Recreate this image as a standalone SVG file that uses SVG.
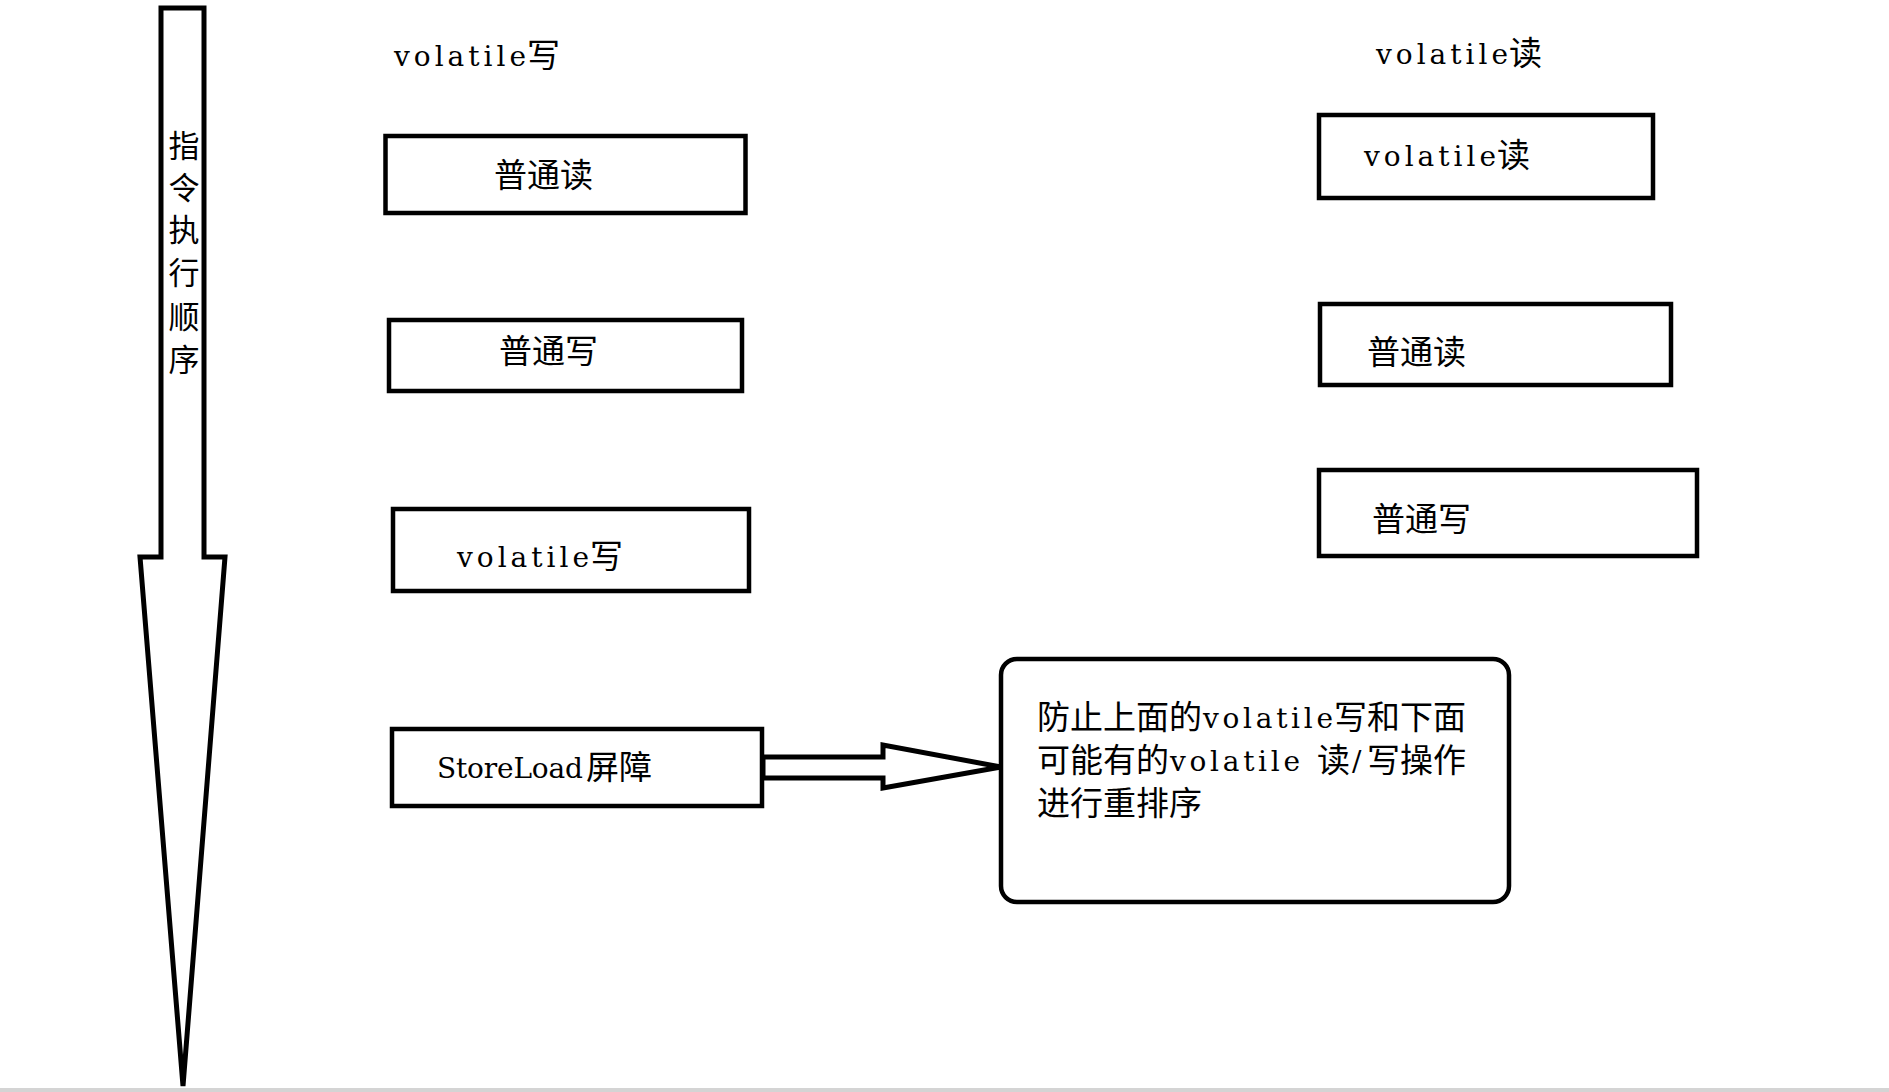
<svg xmlns="http://www.w3.org/2000/svg" width="1889" height="1092" viewBox="0 0 1889 1092">
<style>
  .box { fill: #ffffff; stroke: #000000; stroke-width: 4.5; }
  .l { font-family: "DejaVu Serif", "Liberation Serif", serif; font-size: 28px; fill: #000000; }
  .c { font-family: "Noto Sans CJK SC", sans-serif; font-size: 33px; fill: #000000; }
  .v { font-family: "Noto Sans CJK SC", sans-serif; font-size: 31px; fill: #000000; text-anchor: middle; }
  .shape { fill: #ffffff; stroke: #000000; stroke-width: 5; stroke-linejoin: miter; stroke-miterlimit: 4; }
</style>
<rect x="0" y="0" width="1889" height="1092" fill="#ffffff"/>
<rect x="0" y="1088" width="1889" height="4" fill="#d4d4d4"/>

<g id="order-arrow">
  <polygon class="shape" points="161,8 204,8 204,557 225,557 183,1086 140,557 161,557"/>
  <text class="v" x="184" y="157">指</text>
  <text class="v" x="184" y="199">令</text>
  <text class="v" x="184" y="241">执</text>
  <text class="v" x="184" y="284">行</text>
  <text class="v" x="184" y="328">顺</text>
  <text class="v" x="184" y="371">序</text>
</g>

<g id="title-write">
  <text class="l" x="394" y="66" textLength="132" lengthAdjust="spacing">volatile</text>
  <text class="c" x="527" y="67">写</text>
</g>
<g id="title-read">
  <text class="l" x="1376" y="64" textLength="132" lengthAdjust="spacing">volatile</text>
  <text class="c" x="1509" y="65">读</text>
</g>

<g id="w-normal-read">
  <rect class="box" x="385.5" y="136" width="360" height="77"/>
  <text class="c" x="494" y="187">普通读</text>
</g>
<g id="w-normal-write">
  <rect class="box" x="389" y="320" width="353" height="71"/>
  <text class="c" x="499" y="363">普通写</text>
</g>
<g id="w-volatile-write">
  <rect class="box" x="393" y="509" width="356" height="82"/>
  <text class="l" x="457" y="567" textLength="132" lengthAdjust="spacing">volatile</text>
  <text class="c" x="590" y="568">写</text>
</g>
<g id="w-storeload">
  <rect class="box" x="392" y="729" width="370" height="77"/>
  <text class="l" x="437" y="778" textLength="146" lengthAdjust="spacing">StoreLoad</text>
  <text class="c" x="586" y="779">屏障</text>
</g>

<g id="r-volatile-read">
  <rect class="box" x="1319" y="115" width="334" height="83"/>
  <text class="l" x="1364" y="166" textLength="132" lengthAdjust="spacing">volatile</text>
  <text class="c" x="1497" y="167">读</text>
</g>
<g id="r-normal-read">
  <rect class="box" x="1320" y="304" width="351" height="81"/>
  <text class="c" x="1367" y="364">普通读</text>
</g>
<g id="r-normal-write">
  <rect class="box" x="1319" y="470" width="378" height="86"/>
  <text class="c" x="1372" y="531">普通写</text>
</g>

<g id="note">
  <rect class="box" x="1001" y="659" width="508" height="243" rx="16" ry="16"/>
  <text class="c" x="1037" y="729">防止上面的</text>
  <text class="l" x="1203" y="728" textLength="130" lengthAdjust="spacing">volatile</text>
  <text class="c" x="1334" y="729">写和下面</text>
  <text class="c" x="1037" y="772">可能有的</text>
  <text class="l" x="1170" y="771" textLength="130" lengthAdjust="spacing">volatile</text>
  <text class="c" x="1317" y="772">读</text>
  <text class="l" x="1352" y="771">/</text>
  <text class="c" x="1367" y="772">写操作</text>
  <text class="c" x="1037" y="815">进行重排序</text>
</g>

<g id="connectors">
  <polygon class="shape" points="763,757 883,757 883,745 1001,767 883,788 883,778 763,778"/>
</g>
</svg>
